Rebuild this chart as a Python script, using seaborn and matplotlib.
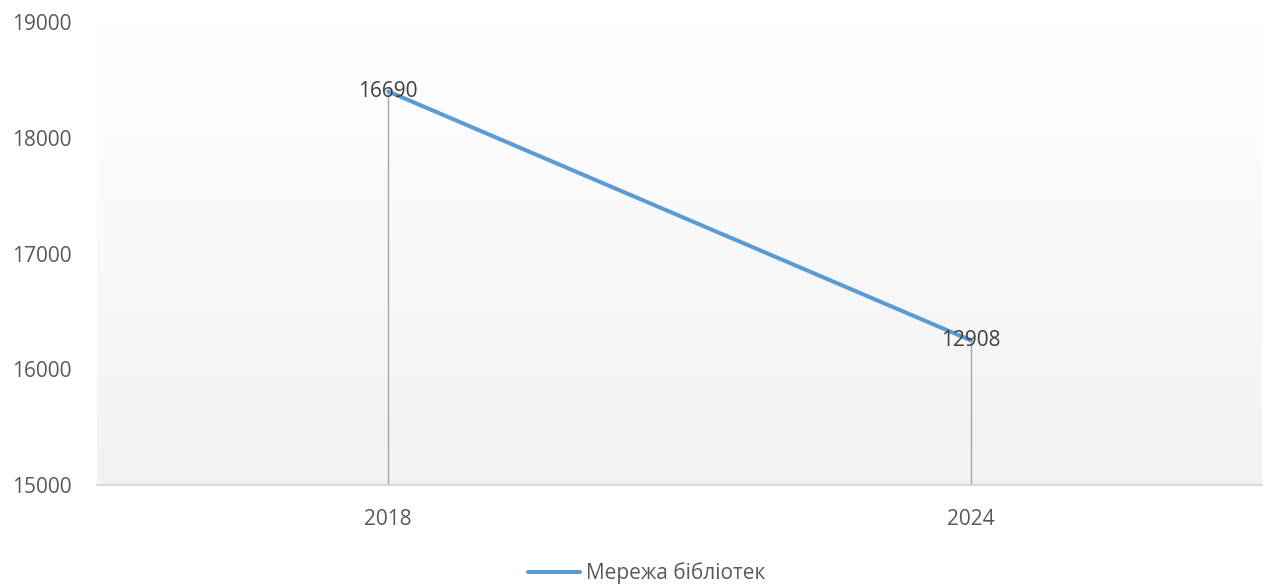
import numpy as np
import pandas as pd
import matplotlib
matplotlib.use("Agg")
import matplotlib.pyplot as plt
import seaborn as sns

# data
years = ["2018", "2024"]
plotted = [18400, 16250]          # where the line actually sits
label_text = ["16690", "12908"]   # labels as printed on the chart
series_name = "Мережа бібліотек"

sns.set_theme(style="white")
plt.rcParams["font.family"] = ["Open Sans", "DejaVu Sans"]

grey = "#595959"
blue = "#5b9bd5"
fs = 15

fig = plt.figure(figsize=(12.69, 5.86), dpi=100)
ax = fig.add_axes([97 / 1269, 1 - 485 / 586, (1262 - 97) / 1269, (485 - 22) / 586])

df = pd.DataFrame({"year": years, "value": plotted})

# background gradient, white at top to light grey at bottom
grad = np.linspace(1.0, 0.0, 256).reshape(-1, 1)
cmap = matplotlib.colors.LinearSegmentedColormap.from_list("bg", ["#f2f2f2", "#ffffff"])
ax.imshow(grad, cmap=cmap, aspect="auto", extent=[0, 1, 0, 1],
          transform=ax.transAxes, zorder=0, vmin=0, vmax=1)

sns.lineplot(data=df, x="year", y="value", ax=ax, color=blue, linewidth=2.9,
             label=series_name, zorder=3, sort=False)

ax.set_xlim(-0.5, 1.5)
ax.set_ylim(15000, 19000)
ax.set_yticks([15000, 16000, 17000, 18000, 19000])

# drop lines + data labels
for i, v in enumerate(plotted):
    ax.vlines(i, 15000, v, color="#a6a6a6", linewidth=1.0, zorder=2)
    ax.text(i, v, label_text[i], ha="center", va="center", fontsize=fs,
            color="#404040", zorder=4)

for s in ["top", "right", "left"]:
    ax.spines[s].set_visible(False)
ax.spines["bottom"].set_color("#d9d9d9")
ax.spines["bottom"].set_linewidth(1.5)
ax.tick_params(axis="both", length=0, labelsize=fs, labelcolor=grey)
ax.tick_params(axis="y", pad=18.5)
ax.tick_params(axis="x", pad=17)
ax.set_xlabel("")
ax.set_ylabel("")
ax.grid(False)

leg = ax.legend(loc="center", bbox_to_anchor=(0.4717, -0.19), frameon=False,
                fontsize=fs, handlelength=2.5, handletextpad=0.25)
for t in leg.get_texts():
    t.set_color(grey)

fig.savefig("out.png", dpi=100)
